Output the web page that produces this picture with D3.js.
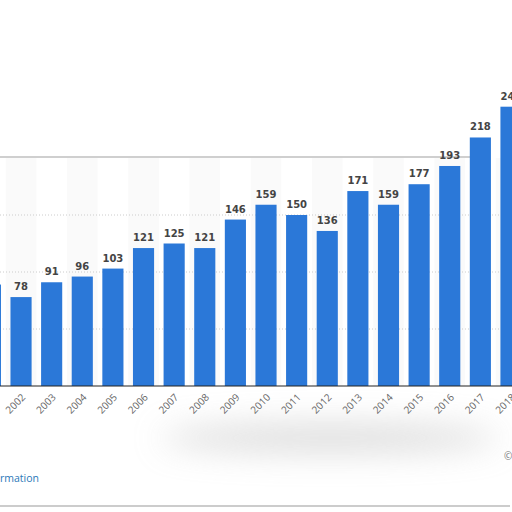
<!DOCTYPE html>
<html><head><meta charset="utf-8">
<script src="https://cdn.jsdelivr.net/npm/d3@7"></script>
<style>body{margin:0;background:#fff;overflow:hidden}svg{display:block}</style>
</head><body>
<svg id="c" width="512" height="512"></svg>
<script>
const years = ["2001","2002","2003","2004","2005","2006","2007","2008","2009","2010","2011","2012","2013","2014","2015","2016","2017","2018"];
const values = [89,78,91,96,103,121,125,121,146,159,150,136,171,159,177,193,218,245];
const labels = ["89","78","91","96","103","121","125","121","146","159","150","136","171","159","177","193","218","245"];
const gridTicks = [50,100,150];

const svg = d3.select("#c");
const defs = svg.append("defs");
defs.append("filter").attr("id","blur").attr("x","-50%").attr("y","-200%").attr("width","200%").attr("height","500%")
  .append("feGaussianBlur").attr("stdDeviation",16);

const x = d3.scaleBand().domain(years).range([-24.9, 526.3]).paddingInner(0.31).paddingOuter(0.155);
const y = d3.scaleLinear().domain([0,200]).range([386,158]);

svg.append("ellipse").attr("cx",330).attr("cy",438).attr("rx",170).attr("ry",14)
  .attr("fill","#c4c4c4").attr("filter","url(#blur)").attr("opacity",0.6);
svg.selectAll("rect.band").data(years.filter((d,i)=>i%2==1)).join("rect")
  .attr("x",d=>x(d)-x.step()*x.paddingInner()/2).attr("width",x.step())
  .attr("y",y(200)).attr("height",y(0)-y(200)).attr("fill","#fafafa");
svg.append("line").attr("x1",0).attr("x2",470).attr("y1",157).attr("y2",157)
  .attr("stroke","#cfcfcf").attr("stroke-width",2);
svg.selectAll("line.g").data(gridTicks).join("line")
  .attr("x1",0).attr("x2",500).attr("y1",d=>y(d)).attr("y2",d=>y(d))
  .attr("stroke","#ccc").attr("stroke-dasharray","1,2");
svg.selectAll("rect.bar").data(years).join("rect")
  .attr("x",d=>x(d)).attr("width",x.bandwidth())
  .attr("y",(d,i)=>y(values[i])).attr("height",(d,i)=>y(0)-y(values[i]))
  .attr("fill","#2b78d8");
svg.selectAll("text.v").data(years).join("text")
  .attr("x",d=>x(d)+x.bandwidth()/2).attr("y",(d,i)=>y(values[i])-7)
  .attr("text-anchor","middle").attr("font-family","DejaVu Sans").attr("font-weight","bold")
  .attr("font-size",10).attr("fill","#444").text((d,i)=>labels[i]);
svg.append("line").attr("x1",0).attr("x2",512).attr("y1",386).attr("y2",386).attr("stroke","#222").attr("stroke-width",1.2);
svg.selectAll("text.t").data(years).join("text")
  .attr("transform",d=>`translate(${x(d)+x.bandwidth()/2+5},${398}) rotate(-45)`)
  .attr("text-anchor","end").attr("font-family","Open Sans").attr("font-size",10).attr("fill","#666").text(d=>d);
svg.append("text").attr("x",0).attr("y",482).attr("font-family","Open Sans").attr("font-size",10.5).attr("fill","#2b78b8").text("rmation");
svg.append("text").attr("x",504).attr("y",460).attr("font-family","Open Sans").attr("font-size",10).attr("fill","#777").text("©");
svg.append("line").attr("x1",0).attr("x2",510).attr("y1",506).attr("y2",506).attr("stroke","#ccc").attr("stroke-width",2);
</script>
</body></html>
